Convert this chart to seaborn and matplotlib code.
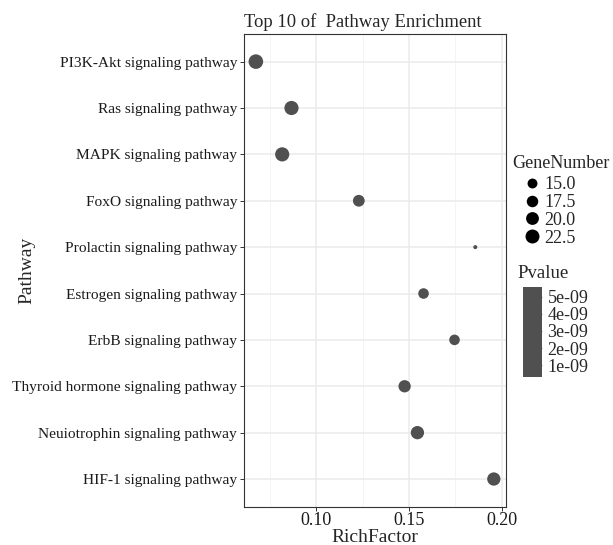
import numpy as np
import pandas as pd
import matplotlib
matplotlib.use("Agg")
import matplotlib.pyplot as plt
import seaborn as sns
from matplotlib.lines import Line2D
from matplotlib.colors import ListedColormap, Normalize
from matplotlib.ticker import FixedLocator
import matplotlib.colorbar as mcolorbar

# data
pathways = [
    "PI3K-Akt signaling pathway",
    "Ras signaling pathway",
    "MAPK signaling pathway",
    "FoxO signaling pathway",
    "Prolactin signaling pathway",
    "Estrogen signaling pathway",
    "ErbB signaling pathway",
    "Thyroid hormone signaling pathway",
    "Neuiotrophin signaling pathway",
    "HIF-1 signaling pathway",
]
rich_factor = [0.0675, 0.0867, 0.0817, 0.1230, 0.1858, 0.1579, 0.1746, 0.1477, 0.1546, 0.1958]
gene_number = [24, 23, 23, 18, 11, 16, 16, 19, 21, 21]
pvalue = [3.2e-10, 6.0e-10, 9.0e-10, 1.5e-09, 5.56e-09, 2.4e-09, 3.1e-09, 2.0e-09, 1.2e-09, 8.0e-10]
size_breaks = [15.0, 17.5, 20.0, 22.5]
p_breaks = [1e-09, 2e-09, 3e-09, 4e-09, 5e-09]

df = pd.DataFrame({"Pathway": pathways, "RichFactor": rich_factor,
                   "GeneNumber": gene_number, "Pvalue": pvalue})

sns.set_theme(style="white")
plt.rcParams["font.family"] = ["Liberation Serif", "DejaVu Serif"]

DOT = "#505050"
gmin, gmax = min(gene_number), max(gene_number)


def diam_pt(g):
    # ggplot-like area scale: diameter grows with sqrt of rescaled value
    t = (g - gmin) / (gmax - gmin)
    return 2.9 + 7.6 * np.sqrt(t)


size_map = {g: diam_pt(g) ** 2 for g in sorted(set(gene_number))}

fig = plt.figure(figsize=(6.13, 5.45), dpi=100)
ax = fig.add_axes([0.398, 0.070, 0.427, 0.868])

sns.scatterplot(data=df, x="RichFactor", y="Pathway", size="GeneNumber",
                sizes=size_map, color=DOT, edgecolor="none", legend=False,
                ax=ax, zorder=3)

span = max(rich_factor) - min(rich_factor)
ax.set_xlim(min(rich_factor) - 0.05 * span, max(rich_factor) + 0.05 * span)
ax.set_ylim(len(pathways) - 0.4, -0.6)

ax.xaxis.set_major_locator(FixedLocator([0.10, 0.15, 0.20]))
ax.xaxis.set_minor_locator(FixedLocator([0.075, 0.125, 0.175]))
ax.set_xticklabels(["0.10", "0.15", "0.20"])
ax.grid(which="major", color="#ebebeb", lw=1.1, zorder=0)
ax.grid(which="minor", axis="x", color="#f2f2f2", lw=0.6, zorder=0)
ax.set_axisbelow(True)
for s in ax.spines.values():
    s.set_color("#333333")
    s.set_linewidth(0.8)
ax.tick_params(axis="both", which="major", length=3, width=0.7, color="#333333",
               labelcolor="#1a1a1a", left=True, bottom=True, pad=2)
ax.tick_params(axis="x", labelsize=13, pad=1)
ax.tick_params(axis="y", labelsize=11.1)
ax.tick_params(axis="x", which="minor", length=0)

ax.set_xlabel("RichFactor", fontsize=14, labelpad=0)
ax.set_ylabel("")
fig.text(27 / 613, 0.504, "Pathway", rotation=90, fontsize=14,
         ha="center", va="center")
ax.set_title("Top 10 of  Pathway Enrichment", fontsize=13.4, pad=5, loc="left")

# size legend
fig.text(512 / 613, 1 - 163 / 545, "GeneNumber", fontsize=13, va="center", ha="left")
handles = [Line2D([], [], ls="", marker="o", color="black", markeredgewidth=0,
                  markersize=diam_pt(b)) for b in size_breaks]
leg = fig.legend(handles, [f"{b:.1f}" for b in size_breaks],
                 loc="upper left", bbox_to_anchor=(521 / 613, 1 - 176 / 545),
                 frameon=False, fontsize=13, handletextpad=0.1,
                 labelspacing=0.05, borderaxespad=0, handlelength=1.2,
                 borderpad=0)

# Pvalue colourbar (single colour, as in the reference)
fig.text(517 / 613, 1 - 274 / 545, "Pvalue", fontsize=13.5, va="center", ha="left")
cax = fig.add_axes([523 / 613, 1 - 377 / 545, 19 / 613, 90 / 545])
cb = mcolorbar.ColorbarBase(cax, cmap=ListedColormap([DOT]),
                            norm=Normalize(min(pvalue), max(pvalue)),
                            orientation="vertical")
cb.set_ticks(p_breaks)
cb.set_ticklabels([f"{p:.0e}" for p in p_breaks])
cb.outline.set_visible(False)
cax.tick_params(length=4, direction="in", color="#8a8a8a", width=0.7,
                labelsize=13, pad=4)

fig.savefig("out.png", dpi=100)
